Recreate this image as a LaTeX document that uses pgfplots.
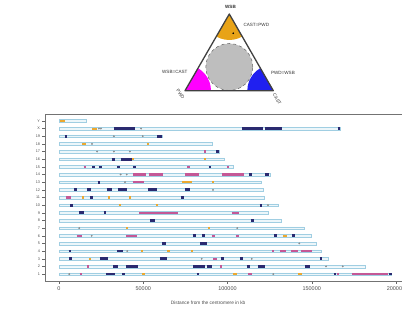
\documentclass[border=0pt]{standalone}
\usepackage{pgfplots}
\pgfplotsset{compat=1.18}
\usepackage{fontspec}
\setmainfont{Liberation Sans}
\definecolor{navyc}{RGB}{42,42,112}
\definecolor{orangec}{RGB}{236,168,48}
\definecolor{pinkc}{RGB}{196,88,150}
\definecolor{barfill}{RGB}{236,246,250}
\definecolor{bardraw}{RGB}{160,206,226}
\definecolor{legorange}{RGB}{232,163,23}
\definecolor{legmag}{RGB}{255,0,255}
\definecolor{legblue}{RGB}{32,32,240}
\definecolor{leggray}{RGB}{190,190,190}
\begin{document}
\begin{tikzpicture}
\useasboundingbox (0,0) rectangle (402bp,319bp);
% ---------- main chart ----------
\begin{axis}[
  at={(45bp,38bp)}, anchor=south west, scale only axis,
  width=357bp, height=167bp,
  xmin=-8309, xmax=203570, ymin=0.1, ymax=21.9,
  axis line style={black!55, line width=0.9pt},
  xtick={0,50000,100000,150000,200000},
  xticklabels={0,50000,100000,150000,200000},
  scaled x ticks=false,
  ytick={1,2,3,4,5,6,7,8,9,10,11,12,13,14,15,16,17,18,19,20,21},
  yticklabels={1,2,3,4,5,6,7,8,9,10,11,12,13,14,15,16,17,18,19,X,Y},
  xticklabel style={font=\fontsize{5.5}{6}\selectfont, text=black!70},
  yticklabel style={font=\fontsize{3.8}{4}\selectfont, text=black!70, xshift=1bp},
  tick align=outside, xtick pos=bottom, ytick pos=left,
  major tick length=2.5bp,
  tick style={black!60, line width=0.4pt},
  xlabel={Distance from the centromere in kb},
  xlabel style={font=\fontsize{4.8}{5}\selectfont, text=black!70,
    at={(axis description cs:0.457,-0.13)}, anchor=center},
  clip=false,
]
% chromosome extents
\addplot[xbar, bar width=2.6bp, fill=barfill, draw=bardraw, line width=0.35bp, forget plot]
coordinates {(197195,1) (181748,2) (159599,3) (155630,4) (152537,5) (149517,6)
 (145441,7) (131738,8) (124076,9) (129993,10) (121843,11) (121257,12) (120284,13)
 (125194,14) (103494,15) (98319,16) (95272,17) (90772,18) (61342,19) (166650,20) (15902,21)};
% pink segments
\addplot[pinkc, line width=2.2bp, unbounded coords=jump, forget plot] coordinates {
(86000,17)(87400,17)(nan,nan)(14600,15)(16000,15)(nan,nan)(76000,15)(77700,15)(nan,nan)(99600,15)(101000,15)(nan,nan)
(43900,14)(51600,14)(nan,nan)(53400,14)(61700,14)(nan,nan)(74800,14)(83100,14)(nan,nan)(96700,14)(109800,14)(nan,nan)
(43700,13)(50400,13)(nan,nan)(4300,11)(7300,11)(nan,nan)(47700,9)(70800,9)(nan,nan)(102500,9)(107000,9)(nan,nan)
(10500,6)(13500,6)(nan,nan)(39800,6)(46100,6)(nan,nan)(90600,6)(92600,6)(nan,nan)(105000,6)(107000,6)(nan,nan)
(126300,4)(127700,4)(nan,nan)(131200,4)(134700,4)(nan,nan)(137700,4)(141800,4)(nan,nan)(143600,4)(150200,4)(nan,nan)
(91400,3)(93600,3)(nan,nan)(16700,2)(18100,2)(nan,nan)(95600,2)(97000,2)(nan,nan)
(12200,1)(13600,1)(nan,nan)(112400,1)(114400,1)(nan,nan)(165200,1)(166400,1)(nan,nan)(173700,1)(195500,1)};
% orange segments
\addplot[orangec, line width=2.1bp, unbounded coords=jump, forget plot] coordinates {
(500,21)(3600,21)(nan,nan)(19600,20)(22600,20)(nan,nan)(13700,18)(16000,18)(nan,nan)(52200,18)(53700,18)(nan,nan)
(43200,16)(44600,16)(nan,nan)(86000,16)(87400,16)(nan,nan)(73000,13)(78800,13)(nan,nan)(91000,13)(92200,13)(nan,nan)
(13600,11)(15000,11)(nan,nan)(29000,11)(30400,11)(nan,nan)(41400,11)(42800,11)(nan,nan)
(35500,10)(36900,10)(nan,nan)(57300,10)(58700,10)(nan,nan)(39800,7)(41200,7)(nan,nan)(88500,7)(89900,7)(nan,nan)
(133000,6)(135600,6)(nan,nan)(48400,4)(49800,4)(nan,nan)(64200,4)(65600,4)(nan,nan)(78100,4)(79500,4)(nan,nan)
(17700,3)(19100,3)(nan,nan)(49100,1)(51000,1)(nan,nan)(103400,1)(105600,1)(nan,nan)(142000,1)(144000,1)};
% navy segments
\addplot[navyc, line width=2.7bp, unbounded coords=jump, forget plot] coordinates {
(32600,20)(45100,20)(nan,nan)(108600,20)(121100,20)(nan,nan)(122300,20)(132400,20)(nan,nan)(165400,20)(167000,20)(nan,nan)
(3400,19)(5000,19)(nan,nan)(58200,19)(61100,19)(nan,nan)(93200,17)(95000,17)(nan,nan)
(31300,16)(33200,16)(nan,nan)(36600,16)(43100,16)(nan,nan)
(19600,15)(21400,15)(nan,nan)(23700,15)(25500,15)(nan,nan)(34400,15)(36200,15)(nan,nan)(43900,15)(45700,15)(nan,nan)(88800,15)(90400,15)(nan,nan)
(113000,14)(114600,14)(nan,nan)(122300,14)(124900,14)(nan,nan)(22900,13)(24500,13)(nan,nan)
(8900,12)(10500,12)(nan,nan)(16800,12)(19200,12)(nan,nan)(28300,12)(31300,12)(nan,nan)(35200,12)(40200,12)(nan,nan)(53000,12)(58000,12)(nan,nan)(74800,12)(77700,12)(nan,nan)
(18400,11)(20000,11)(nan,nan)(72600,11)(74200,11)(nan,nan)(6700,10)(8300,10)(nan,nan)(119100,10)(120700,10)(nan,nan)
(12000,9)(14800,9)(nan,nan)(26500,9)(28100,9)(nan,nan)(54000,8)(57000,8)(nan,nan)(114200,8)(115800,8)(nan,nan)
(79500,6)(81100,6)(nan,nan)(85100,6)(86700,6)(nan,nan)(127700,6)(129300,6)(nan,nan)(138200,6)(139800,6)(nan,nan)
(61400,5)(63500,5)(nan,nan)(83700,5)(87700,5)(nan,nan)(5700,4)(7300,4)(nan,nan)(34600,4)(38200,4)(nan,nan)
(6100,3)(7700,3)(nan,nan)(24300,3)(29300,3)(nan,nan)(59900,3)(63900,3)(nan,nan)(96100,3)(97700,3)(nan,nan)(107400,3)(109400,3)(nan,nan)(154700,3)(156300,3)(nan,nan)
(32200,2)(35200,2)(nan,nan)(39800,2)(47100,2)(nan,nan)(79700,2)(86700,2)(nan,nan)(87700,2)(90600,2)(nan,nan)(111400,2)(113400,2)(nan,nan)(118300,2)(122300,2)(nan,nan)(146000,2)(149000,2)(nan,nan)
(27900,1)(33200,1)(nan,nan)(37600,1)(39200,1)(nan,nan)(81700,1)(83300,1)(nan,nan)(163000,1)(164600,1)(nan,nan)(195800,1)(197400,1)};
% small grey marks
\addplot[only marks, mark=*, mark size=0.7bp, black!45, forget plot] coordinates {
(23700,20)(24900,20)(48700,20)(32600,19)(49700,19)(19600,18)(22600,17)(32600,17)(42100,17)
(36600,14)(40200,14)(39200,13)(91400,12)(124000,10)(12000,7)(105800,7)(19400,6)(142600,5)
(40500,4)(84700,3)(114400,3)(158500,2)(168400,2)(6100,1)(127200,1)};
\end{axis}
% ---------- ternary legend ----------
\begin{axis}[
  at={(0bp,0bp)}, anchor=south west, scale only axis,
  width=402bp, height=319bp,
  xmin=0, xmax=402, ymin=-319, ymax=0,
  hide axis, clip=false,
]
\addplot[fill=leggray, draw=black!60, dashed, line width=0.5bp, forget plot] coordinates {
(252.8,-67)(252.00,-60.92)(249.65,-55.25)(245.92,-50.38)(241.05,-46.65)(235.38,-44.30)(229.3,-43.5)
(223.22,-44.30)(217.55,-46.65)(212.68,-50.38)(208.95,-55.25)(206.60,-60.92)(205.8,-67)
(206.60,-73.08)(208.95,-78.75)(212.68,-83.62)(217.55,-87.35)(223.22,-89.70)(229.3,-90.5)
(235.38,-89.70)(241.05,-87.35)(245.92,-83.62)(249.65,-78.75)(252.00,-73.08)} --cycle;
\addplot[fill=legorange, draw=none, forget plot] coordinates {
(229.3,-14)(216.3,-36.52)(220.41,-38.43)(224.79,-39.60)(229.3,-40)(233.81,-39.60)(238.19,-38.43)(242.3,-36.52)} --cycle;
\addplot[fill=legmag, draw=none, forget plot] coordinates {
(185,-90.7)(211,-90.7)(210.60,-86.19)(209.43,-81.81)(207.52,-77.7)(204.92,-73.99)(201.71,-70.78)(198,-68.18)} --cycle;
\addplot[fill=legblue, draw=none, forget plot] coordinates {
(273.3,-90.7)(260.3,-68.18)(256.59,-70.78)(253.38,-73.99)(250.78,-77.7)(248.87,-81.81)(247.7,-86.19)(247.3,-90.7)} --cycle;
\addplot[draw=black!75, line width=1.3bp, line join=round, forget plot] coordinates {
(229.3,-14)(185,-90.7)(273.3,-90.7)} --cycle;
\addplot[only marks, mark=*, mark size=0.6bp, black, forget plot] coordinates {(233.3,-33.3)};
\node[font=\fontsize{4.6}{5}\selectfont\bfseries, text=black!80] at (axis cs:230.5,-7.3) {WSB};
\node[font=\fontsize{4.6}{5}\selectfont, text=black!80, anchor=west] at (axis cs:240,-25) {CAST=PWD};
\node[font=\fontsize{4.6}{5}\selectfont, text=black!80, anchor=east] at (axis cs:191,-72) {WSB=CAST};
\node[font=\fontsize{4.6}{5}\selectfont, text=black!80, anchor=west] at (axis cs:267.5,-73) {PWD=WSB};
\node[font=\fontsize{4.6}{5}\selectfont, text=black!80, rotate=-55] at (axis cs:180.5,-94) {PWD};
\node[font=\fontsize{4.6}{5}\selectfont, text=black!80, rotate=-60] at (axis cs:277,-99) {CAST};
\end{axis}
\end{tikzpicture}
\end{document}
